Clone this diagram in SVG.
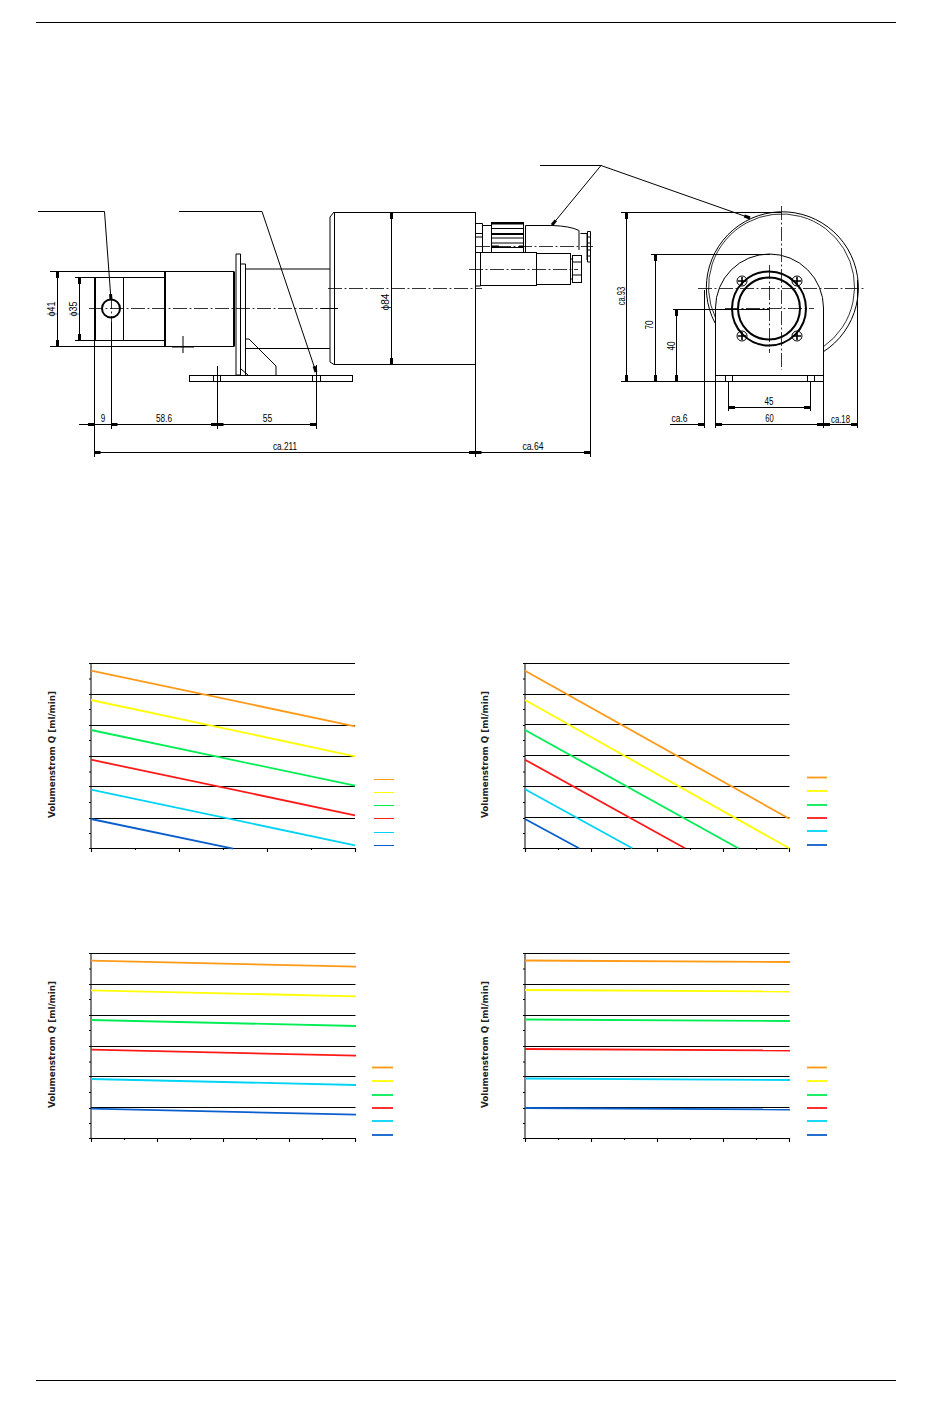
<svg xmlns="http://www.w3.org/2000/svg" width="950" height="1408" viewBox="0 0 950 1408">
<style>
text{font-family:"Liberation Sans",sans-serif;font-size:11px;fill:#000}
.t{font-family:"DejaVu Sans",sans-serif;font-size:8px;font-weight:700;fill:#222}
path,line,circle,rect{fill:none;stroke:#000;stroke-width:1}
.k{stroke-width:2}
.c{stroke-width:.8;stroke-dasharray:14 2.5 2 2.5}
.d{marker-start:url(#a);marker-end:url(#a)}
.e{marker-end:url(#a)}
.g line{stroke-width:1}
.g path{stroke-width:1.100}
.s line{stroke-width:1.800}
.o{stroke:#ff9a17}.y{stroke:#ffff00}.n{stroke:#00ee55}.r{stroke:#ff1a1a}.b{stroke:#00d4f4}.u{stroke:#0a5fcc}
</style>
<defs>
<marker id="a" markerUnits="userSpaceOnUse" markerWidth="8" markerHeight="5" refX="7" refY="2.5" orient="auto-start-reverse"><path d="M1 1H7V4H1Z" style="fill:#000;stroke:none"/></marker>
<g id="gy"><line x1="0" y1="0" x2="0" y2="185"/><line x1="-2" y1="15.500" x2="0" y2="15.500"/><line x1="-2" y1="46" x2="0" y2="46"/><line x1="-2" y1="77" x2="0" y2="77"/><line x1="-2" y1="108.500" x2="0" y2="108.500"/><line x1="-2" y1="139" x2="0" y2="139"/><line x1="-2" y1="170" x2="0" y2="170"/><line x1="-2" y1="0" x2="0" y2="0"/><line x1="-2" y1="31" x2="0" y2="31"/><line x1="-2" y1="62" x2="0" y2="62"/><line x1="-2" y1="93" x2="0" y2="93"/><line x1="-2" y1="123" x2="0" y2="123"/><line x1="-2" y1="155" x2="0" y2="155"/><line x1="-2" y1="185" x2="0" y2="185"/></g>
</defs>
<g id="rules"><line x1="36" y1="22.500" x2="896" y2="22.500"/><line x1="36" y1="1380.500" x2="896" y2="1380.500"/></g>

<g id="front-view">
<path d="M95 271.500H234M95 277.500H165M95 340.500H165M57 346.500H234"/>
<path d="M50 271.500H95M50 346.500H95M75 277.500H95M75 340.500H95"/>
<path class="k" d="M95 277V341M165 271.500V346.500M234 271.500V346.500"/>
<path d="M123.500 277.500V340.500"/>
<circle class="k" cx="111" cy="308.500" r="9"/>
<path d="M172 347H194M183 336V353"/>
<path d="M236 254H240.500V375H236ZM240.500 264H245.500V375"/>
<path d="M245.500 269H330M245.500 348.500H330M245.500 339H249L276 366V375M241 369L248 375"/>
<rect x="189.500" y="375.500" width="163" height="6"/>
<path d="M213.500 375.500V381.500M220.500 375.500V381.500M312.500 375.500V381.500M320.500 375.500V381.500"/>
<path d="M330 217V362L334 364.500M330 217L334 212"/>
<rect x="334.500" y="212.500" width="141" height="152"/>
<line class="c" x1="89" y1="308.500" x2="338" y2="308.500"/>
<line class="c" x1="328" y1="288.500" x2="482" y2="288.500"/>
<path class="c" d="M111.500 295V326"/>
<path d="M321 308.500H338"/>
</g>

<g id="connector">
<path d="M475.500 223.500H482.500V252.500M475.500 233.500H482.500M475.500 237H482.500M482.500 225.500H491"/>
<rect x="491.500" y="222.500" width="32" height="30"/>
<path class="k" d="M491.500 223.500H523.500"/>
<path d="M491.500 228.500H523.500M491.500 238H523.500M491.500 243H523.500M491.500 247.500H523.500"/>
<path class="k" d="M491.500 234H523.500M491.500 246.500H499M519 246.500H523.500"/>
<path d="M525.500 252V225.500H552Q570 226 579 230.500V250"/>
<path d="M580.500 233.500H587V260M587.500 231.500H590.500V262H587.500ZM587.500 237H590.500M587.500 243H590.500M587.500 250H590.500M587.500 256H590.500"/>
<path d="M476 252.500H480.500V286H476"/>
<rect x="480.500" y="252.500" width="56" height="33"/>
<rect x="536.500" y="253.500" width="34" height="31"/>
<rect x="572.500" y="255.500" width="9" height="27"/>
<path d="M572.500 262H581.500M572.500 275H581.500M571 259H572.500M571 279H572.500"/>
<line class="c" x1="476" y1="246.500" x2="593" y2="246.500"/>
<line class="c" x1="469" y1="269.500" x2="578" y2="269.500"/>
</g>

<g id="side-view">
<path d="M715 323A76 76 0 1 1 823 352"/>
<path d="M715.500 318A73 73 0 1 1 823 347" style="stroke-width:.8"/>
<path d="M715.500 375V308A54 54 0 0 1 823.500 308V375"/>
<rect x="715.500" y="375.500" width="108" height="6"/>
<path d="M725.500 375.500V381.500M732.500 375.500V381.500M807.500 375.500V381.500M814.500 375.500V381.500"/>
<circle class="k" cx="769" cy="308.500" r="37"/>
<circle class="k" cx="769" cy="308.500" r="31"/>
<circle cx="742" cy="281" r="5"/><circle cx="797" cy="281" r="5"/><circle cx="742" cy="336" r="5"/><circle cx="797" cy="336" r="5"/>
<path style="stroke-width:1.600" d="M742 277V285M738 281H746M797 277V285M793 281H801M742 332V340M738 336H746M797 332V340M793 336H801"/>
<line class="c" x1="698" y1="288.500" x2="864" y2="288.500"/>
<line class="c" x1="781.500" y1="206" x2="781.500" y2="370"/>
<line class="c" x1="725" y1="308.500" x2="814" y2="308.500"/>
<line class="c" x1="769.500" y1="265" x2="769.500" y2="353"/>
</g>

<g id="connectors">
<path class="e" d="M38 211.500H104.500L111 300"/>
<path class="e" d="M179 211.500H262L316 372"/>
<path class="e" d="M540 165.500H601L552 225"/>
<path class="e" d="M601 165.500L750 218"/>
</g>

<g id="dimensions">
<path class="d" d="M57.500 272V346"/><path class="d" d="M79.500 278V340"/>
<path class="d" d="M391.500 213V364"/>
<path d="M94.500 341V457M111.500 322V429M217.500 366V429M316.500 365V429M475.500 365V457M590.500 262V457"/>
<path class="e" d="M79 424.500H94"/><path class="d" d="M111.500 424.500H217"/><path class="d" d="M217.500 424.500H316"/>
<path d="M94 424.500H111"/>
<path class="d" d="M94.500 452.500H475"/><path class="d" d="M475.500 452.500H590"/>
<path d="M621 212.500H781M621 381.500H716M651 254.500H770M673 309.500H769"/>
<path class="d" d="M626.500 213V381"/><path class="d" d="M655.500 255V381"/><path class="d" d="M676.500 310V381"/>
<path d="M728.500 382V411M810.500 382V411"/>
<path class="d" d="M729 407.500H810"/>
<path d="M704.500 290V428M715.500 382V428M823.500 382V428M857.500 280V428"/>
<path class="e" d="M670 424.500H704"/><path class="d" d="M716 424.500H823"/>
<path class="e" d="M850 424.500H824"/><path class="e" d="M830 424.500H857"/>
<text x="103" y="422" text-anchor="middle" textLength="4.500" lengthAdjust="spacingAndGlyphs">9</text>
<text x="164" y="422" text-anchor="middle" textLength="16" lengthAdjust="spacingAndGlyphs">58.6</text>
<text x="267.500" y="422" text-anchor="middle" textLength="9.500" lengthAdjust="spacingAndGlyphs">55</text>
<text x="285" y="450" text-anchor="middle" textLength="24" lengthAdjust="spacingAndGlyphs">ca.211</text>
<text x="533" y="450" text-anchor="middle" textLength="21" lengthAdjust="spacingAndGlyphs">ca.64</text>
<text x="679.500" y="422" text-anchor="middle" textLength="16" lengthAdjust="spacingAndGlyphs">ca.6</text>
<text x="769.500" y="422" text-anchor="middle" textLength="8.500" lengthAdjust="spacingAndGlyphs">60</text>
<text x="769" y="405" text-anchor="middle" textLength="9" lengthAdjust="spacingAndGlyphs">45</text>
<text x="840.500" y="423" text-anchor="middle" textLength="19" lengthAdjust="spacingAndGlyphs">ca.18</text>
<text transform="translate(55 309) rotate(-90)" text-anchor="middle" textLength="15" lengthAdjust="spacingAndGlyphs">ϕ41</text>
<text transform="translate(77 309) rotate(-90)" text-anchor="middle" textLength="15" lengthAdjust="spacingAndGlyphs">ϕ35</text>
<text transform="translate(389 302) rotate(-90)" text-anchor="middle" textLength="17" lengthAdjust="spacingAndGlyphs">ϕ84</text>
<text transform="translate(625 296) rotate(-90)" text-anchor="middle" textLength="18.500" lengthAdjust="spacingAndGlyphs">ca.93</text>
<text transform="translate(653 325) rotate(-90)" text-anchor="middle" textLength="9" lengthAdjust="spacingAndGlyphs">70</text>
<text transform="translate(675 346) rotate(-90)" text-anchor="middle" textLength="9" lengthAdjust="spacingAndGlyphs">40</text>
</g>

<g id="chart1" class="g">
<use href="#gy" x="91" y="663.500"/>
<path d="M91 663.500H355M91 694.500H355M91 725.500H355M91 756.500H355M91 786.500H355M91 818.500H355M91 848.500H355"/>
<path d="M91.500 848V852M135.500 848V850M179.500 848V852M223.500 848V850M267.500 848V852M311.500 848V850M355.500 848V852"/>
<g class="s"><line class="o" x1="91" y1="670.700" x2="355" y2="726.300"/><line class="y" x1="91" y1="700" x2="355" y2="756.300"/><line class="n" x1="91" y1="730" x2="355" y2="785.700"/><line class="r" x1="91" y1="759.700" x2="355" y2="815.300"/><line class="b" x1="91" y1="789.700" x2="355" y2="845.300"/><line class="u" x1="91" y1="819" x2="233" y2="848.700"/></g>
<g><line class="o" x1="374" y1="779.500" x2="394" y2="779.500"/><line class="y" x1="374" y1="792.500" x2="394" y2="792.500"/><line class="n" x1="374" y1="805.500" x2="394" y2="805.500"/><line class="r" x1="374" y1="818.500" x2="394" y2="818.500"/><line class="b" x1="374" y1="832.500" x2="394" y2="832.500"/><line class="u" x1="374" y1="845.500" x2="394" y2="845.500"/></g>
<text class="t" transform="translate(55 754.500) rotate(-90)" text-anchor="middle" textLength="127" lengthAdjust="spacingAndGlyphs">Volumenstrom Q [ml/min]</text>
</g>

<g id="chart2" class="g">
<use href="#gy" x="525" y="663.500"/>
<path d="M525 663.500H789.500M525 694.500H789.500M525 724.500H789.500M525 755.500H789.500M525 786.500H789.500M525 817.500H789.500M525 848.500H789.500"/>
<path d="M525.500 848V852M558.500 848V850M591.500 848V852M624.500 848V850M657.500 848V852M690.500 848V850M723.500 848V852M756.500 848V850M789.500 848V852"/>
<g class="s"><line class="o" x1="525" y1="670.700" x2="789.300" y2="818.700"/><line class="y" x1="525" y1="700" x2="789.300" y2="848.300"/><line class="n" x1="525" y1="730" x2="738.300" y2="848.300"/><line class="r" x1="525" y1="759.700" x2="685" y2="848.300"/><line class="b" x1="525" y1="789.300" x2="632.300" y2="848.300"/><line class="u" x1="525" y1="819" x2="579" y2="848.300"/></g>
<g class="s"><line class="o" x1="807" y1="777.500" x2="827" y2="777.500"/><line class="y" x1="807" y1="791" x2="827" y2="791"/><line class="n" x1="807" y1="805" x2="827" y2="805"/><line class="r" x1="807" y1="818" x2="827" y2="818"/><line class="b" x1="807" y1="831" x2="827" y2="831"/><line class="u" x1="807" y1="845" x2="827" y2="845"/></g>
<text class="t" transform="translate(488 754.500) rotate(-90)" text-anchor="middle" textLength="127" lengthAdjust="spacingAndGlyphs">Volumenstrom Q [ml/min]</text>
</g>

<g id="chart3" class="g">
<use href="#gy" x="91" y="953.500"/>
<path d="M91 953.500H355.500M91 984.500H355.500M91 1015.500H355.500M91 1046.500H355.500M91 1076.500H355.500M91 1107.500H355.500M91 1138.500H355.500"/>
<path d="M91.500 1138V1142M124.500 1138V1140M157.500 1138V1142M190.500 1138V1140M223.500 1138V1142M256.500 1138V1140M289.500 1138V1142M322.500 1138V1140M355.500 1138V1142"/>
<g class="s"><line class="o" x1="91" y1="960.700" x2="356" y2="966.700"/><line class="y" x1="91" y1="990.300" x2="356" y2="996.300"/><line class="n" x1="91" y1="1020" x2="356" y2="1026"/><line class="r" x1="91" y1="1049.700" x2="356" y2="1055.700"/><line class="b" x1="91" y1="1079" x2="356" y2="1085"/><line class="u" x1="91" y1="1108.700" x2="356" y2="1114.700"/></g>
<g class="s"><line class="o" x1="372" y1="1067.500" x2="393" y2="1067.500"/><line class="y" x1="372" y1="1081" x2="393" y2="1081"/><line class="n" x1="372" y1="1095" x2="393" y2="1095"/><line class="r" x1="372" y1="1108" x2="393" y2="1108"/><line class="b" x1="372" y1="1121" x2="393" y2="1121"/><line class="u" x1="372" y1="1135" x2="393" y2="1135"/></g>
<text class="t" transform="translate(54.500 1044.500) rotate(-90)" text-anchor="middle" textLength="127" lengthAdjust="spacingAndGlyphs">Volumenstrom Q [ml/min]</text>
</g>

<g id="chart4" class="g">
<use href="#gy" x="525" y="953.500"/>
<path d="M525 953.500H789.500M525 984.500H789.500M525 1015.500H789.500M525 1046.500H789.500M525 1076.500H789.500M525 1107.500H789.500M525 1138.500H789.500"/>
<path d="M525.500 1138V1142M558.500 1138V1140M591.500 1138V1142M624.500 1138V1140M657.500 1138V1142M690.500 1138V1140M723.500 1138V1142M756.500 1138V1140M789.500 1138V1142"/>
<g class="s"><line class="o" x1="525" y1="960.500" x2="790" y2="962"/><line class="y" x1="525" y1="990" x2="790" y2="991.500"/><line class="n" x1="525" y1="1019.500" x2="790" y2="1021"/><line class="r" x1="525" y1="1049" x2="790" y2="1050.500"/><line class="b" x1="525" y1="1078.500" x2="790" y2="1080"/><line class="u" x1="525" y1="1108" x2="790" y2="1109.500"/></g>
<g class="s"><line class="o" x1="807" y1="1067.500" x2="827" y2="1067.500"/><line class="y" x1="807" y1="1081" x2="827" y2="1081"/><line class="n" x1="807" y1="1095" x2="827" y2="1095"/><line class="r" x1="807" y1="1108" x2="827" y2="1108"/><line class="b" x1="807" y1="1121" x2="827" y2="1121"/><line class="u" x1="807" y1="1135" x2="827" y2="1135"/></g>
<text class="t" transform="translate(488 1044.500) rotate(-90)" text-anchor="middle" textLength="127" lengthAdjust="spacingAndGlyphs">Volumenstrom Q [ml/min]</text>
</g>
</svg>
